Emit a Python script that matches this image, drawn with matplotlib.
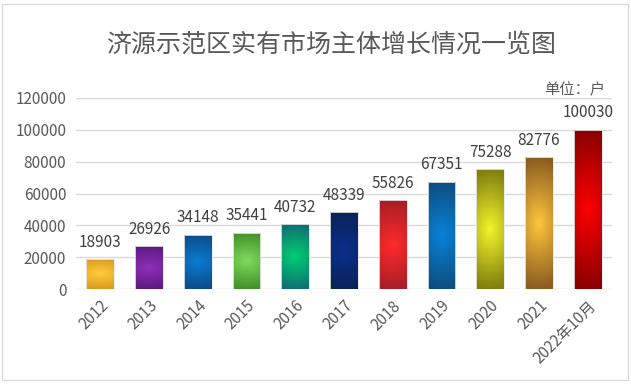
import numpy as np
import matplotlib
matplotlib.use('Agg')
import matplotlib.pyplot as plt
from matplotlib.colors import to_rgb
from matplotlib.patches import Rectangle

plt.rcParams['font.family'] = ['Noto Sans CJK SC', 'DejaVu Sans']

# data
years = ['2012', '2013', '2014', '2015', '2016', '2017', '2018', '2019', '2020', '2021', '2022年10月']
counts = [18903, 26926, 34148, 35441, 40732, 48339, 55826, 67351, 75288, 82776, 100030]

# bar colours: bright centre, dark rim
centre_colors = ['#FFCB3C', '#8E30B8', '#0A7CD2', '#7EDC5C', '#00CF72', '#0A2F8C',
                 '#FF2B2B', '#0A82D8', '#F4F42C', '#FFC63E', '#FF0000']
edge_colors = ['#D89A1E', '#5E1A80', '#0C4C88', '#43902A', '#107070', '#0A2358',
               '#A81E26', '#0C4E80', '#80800E', '#8A5E20', '#8A0000']

fig = plt.figure(figsize=(6.31, 3.84), dpi=100)
ax = fig.add_axes([76/631, 95/384, 536/631, 191/384])

# outer frame
fig.patches.append(Rectangle((2/631, 4/384), 626/631, 376/384, transform=fig.transFigure,
                             fill=False, edgecolor='#D9D9D9', linewidth=1))

x = np.arange(len(years))
width = 0.57
bars = ax.bar(x, counts, width=width, color='none', edgecolor='none', zorder=3)

# path-style gradient (centre -> rim)
u = np.linspace(-1, 1, 60)
v = np.linspace(-1, 1, 120)
U, V = np.meshgrid(u, v)
d = np.clip(np.sqrt(0.15 * U**2 + V**2), 0, 1)
for bar, c0, c1 in zip(bars, centre_colors, edge_colors):
    a = np.array(to_rgb(c0))
    b = np.array(to_rgb(c1))
    img = a[None, None, :] * (1 - d[..., None]) + b[None, None, :] * d[..., None]
    bx, by = bar.get_x(), bar.get_y()
    bw, bh = bar.get_width(), bar.get_height()
    im = ax.imshow(img, extent=(bx, bx + bw, by, by + bh), aspect='auto', zorder=3,
                   interpolation='bilinear')
    im.set_clip_path(bar)
    ax.add_patch(Rectangle((bx, by), bw, bh, fill=False, edgecolor='#E8E8E8',
                           linewidth=0.6, zorder=4))

for xi, val in zip(x, counts):
    ax.annotate(str(val), (xi, val), xytext=(0, 6), textcoords='offset points',
                ha='center', va='bottom', fontsize=11, color='#404040')

ax.set_xlim(-0.5, len(years) - 0.5)
ax.set_ylim(0, 120000)
ax.set_yticks(np.arange(0, 120001, 20000))
ax.yaxis.grid(True, color='#D9D9D9', linewidth=1)
ax.set_axisbelow(True)
for s in ax.spines.values():
    s.set_visible(False)
ax.tick_params(axis='both', length=0, colors='#595959', labelsize=11)
ax.tick_params(axis='y', pad=7)
ax.set_xticks(x)
ax.set_xticklabels(years, rotation=45, ha='right', rotation_mode='anchor')
ax.tick_params(axis='x', pad=6)

fig.text(0.525, 1 - 45/384, '济源示范区实有市场主体增长情况一览图', ha='center', va='center',
         fontsize=18, color='#595959')
fig.text(605/631, 1 - 90/384, '单位：户', ha='right', va='center', fontsize=11, color='#595959')

fig.savefig('out.png', dpi=100)
